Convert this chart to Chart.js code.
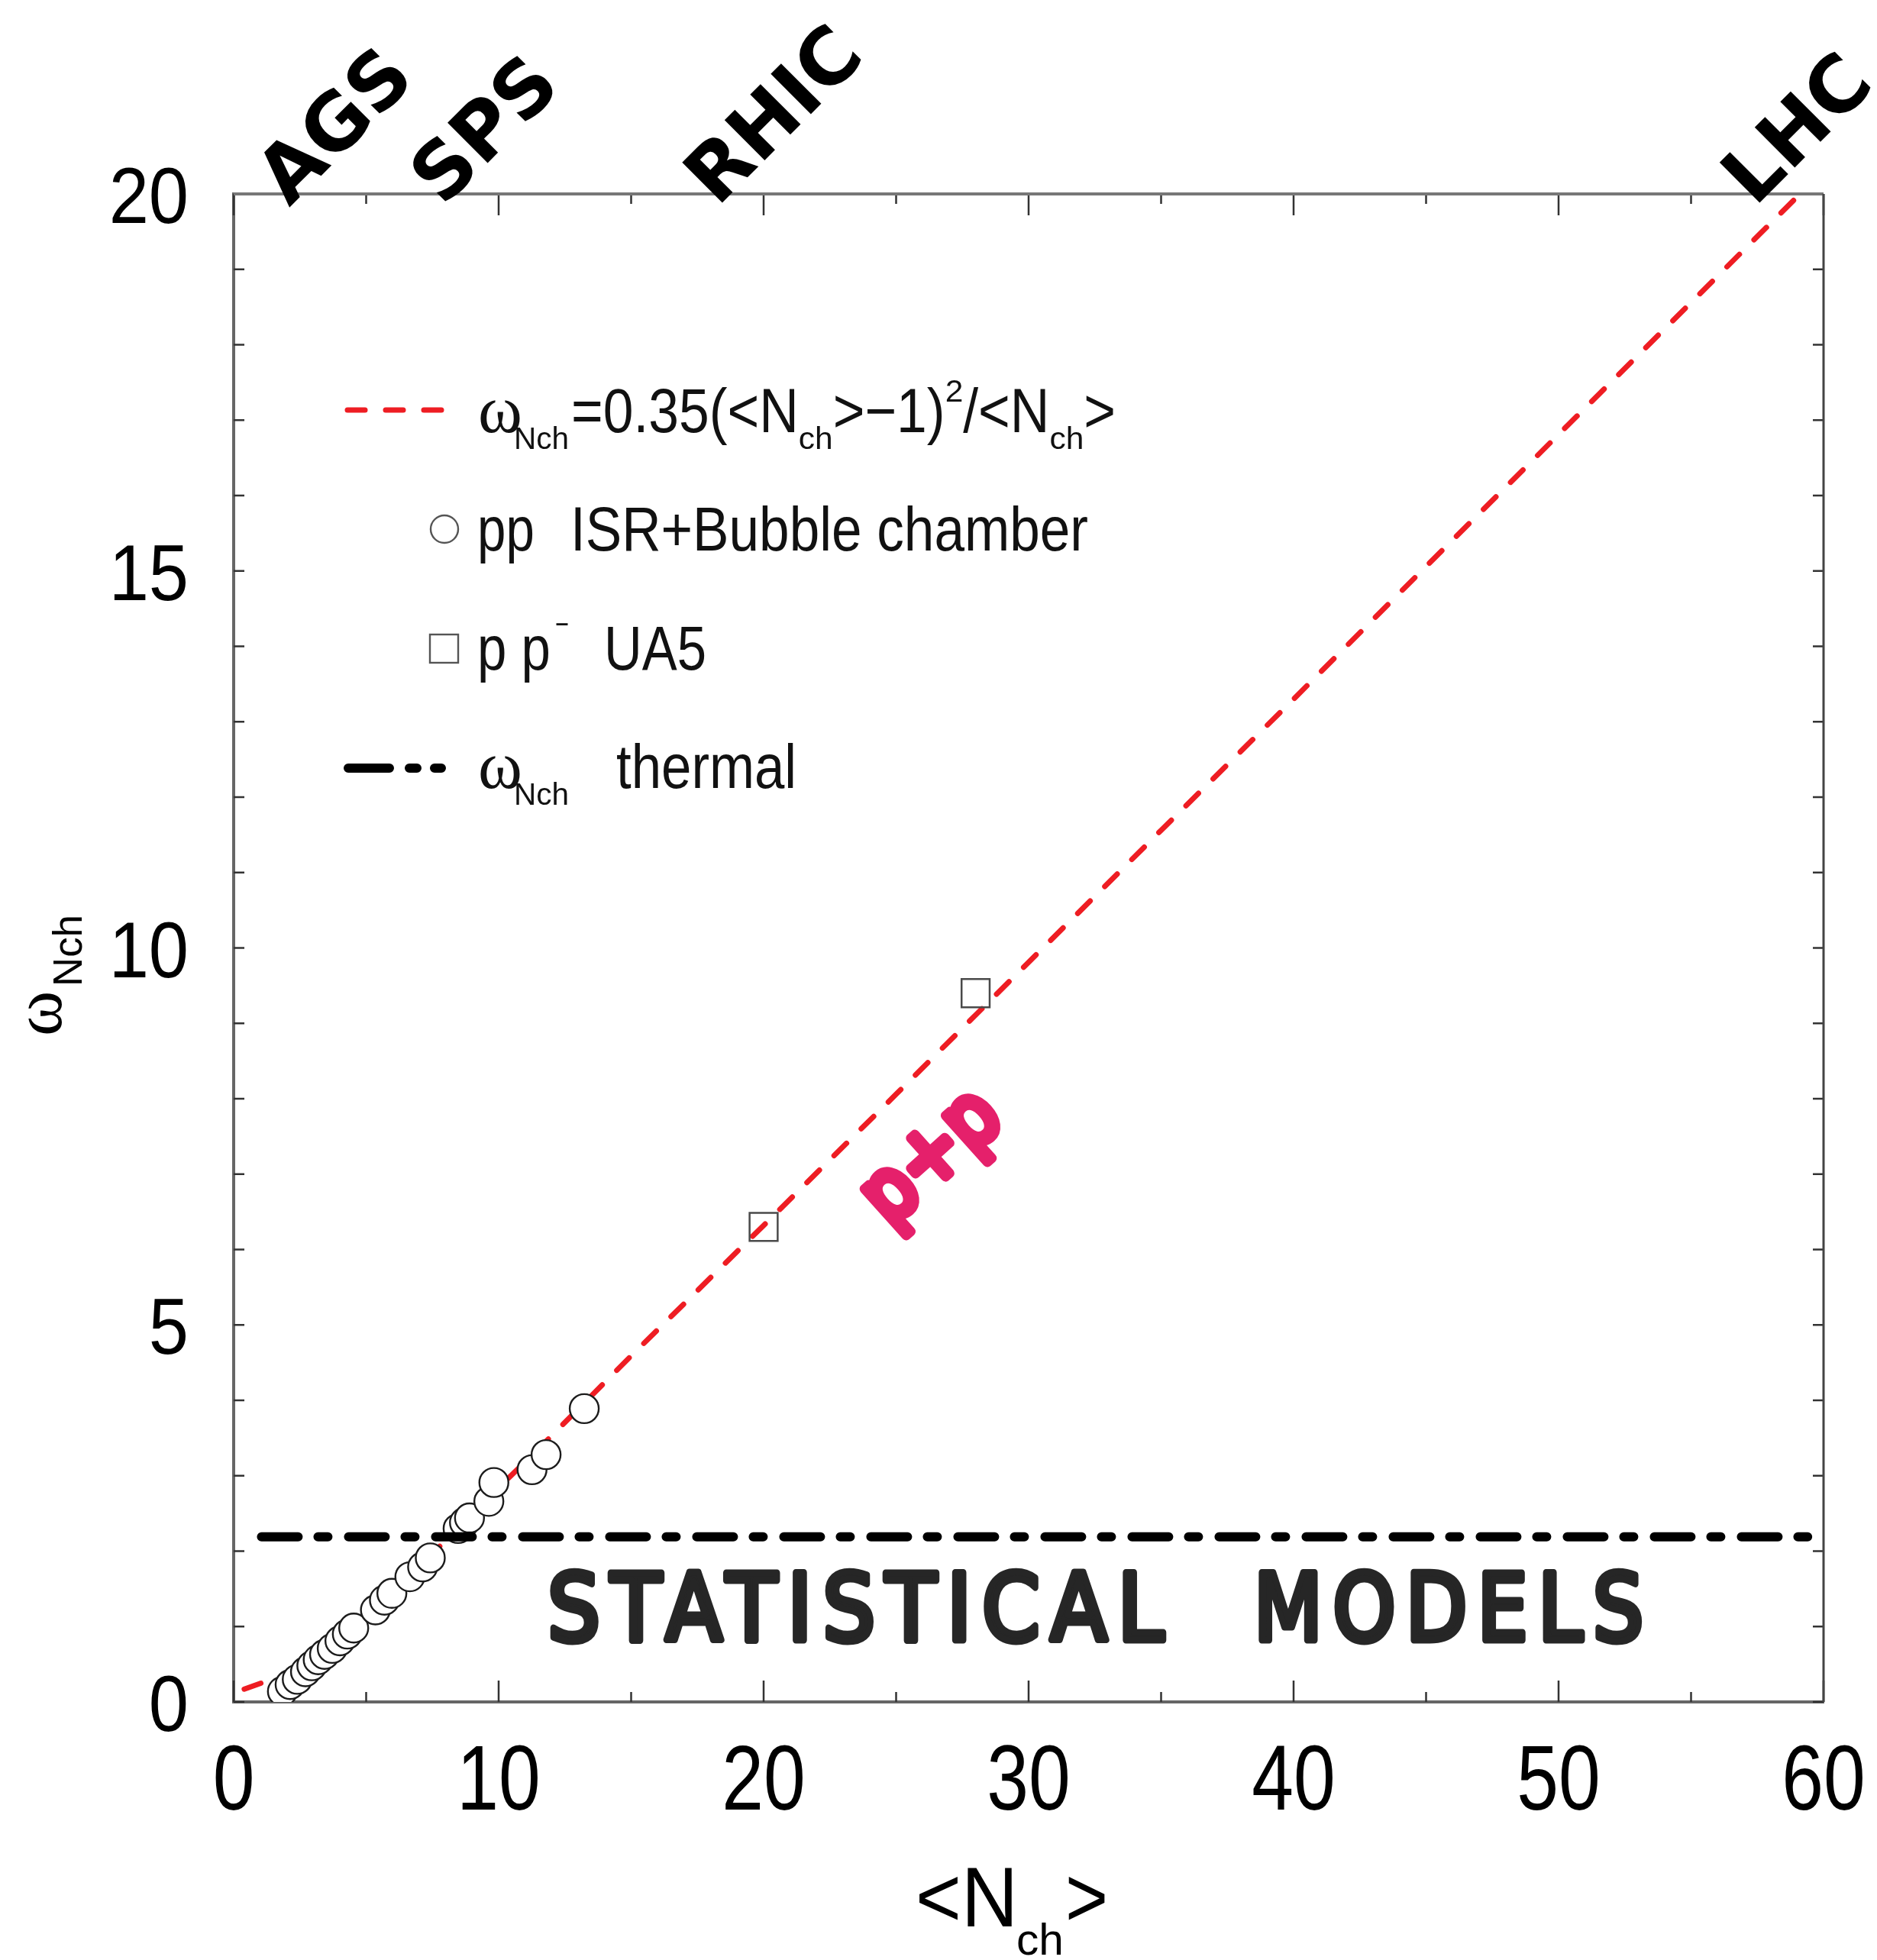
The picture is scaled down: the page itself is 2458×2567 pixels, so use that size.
<!DOCTYPE html>
<html>
<head>
<meta charset="utf-8">
<script src="https://cdn.jsdelivr.net/npm/chart.js@4.4.1/dist/chart.umd.min.js"></script>
<style>
  html, body { margin: 0; padding: 0; background: #fff; }
  canvas { display: block; }
</style>
</head>
<body>
<canvas id="multChart" width="2458" height="2567"></canvas>
<script>
// pp data (ISR + bubble chamber): mean charged multiplicity vs scaled variance
const ppMult  = [1.84, 2.13, 2.40, 2.71, 2.95, 3.19, 3.43, 3.72, 4.01, 4.29, 4.53, 5.35, 5.69,
                 5.97, 6.65, 7.13, 7.42, 8.47, 8.71, 8.90, 9.63, 9.82, 11.26, 11.79, 13.23];
const ppOmega = [0.14, 0.23, 0.30, 0.40, 0.48, 0.56, 0.63, 0.71, 0.81, 0.90, 0.98, 1.22, 1.35,
                 1.44, 1.66, 1.79, 1.91, 2.30, 2.38, 2.44, 2.66, 2.91, 3.08, 3.28, 3.89];
// p pbar UA5
const ua5Mult  = [20.0, 28.0];
const ua5Omega = [6.30, 9.40];
// fitted curve
const fitMult  = [0.4, 1.2, 2, 3, 4, 5, 6, 8, 10, 12, 15, 20, 25, 30, 35, 40, 45, 50, 55, 59.4];
const fitOmega = [0.17, 0.27, 0.33, 0.50, 0.79, 1.12, 1.46, 2.14, 2.84, 3.53, 4.59, 6.32, 8.06,
                  9.81, 11.56, 13.30, 15.06, 16.81, 18.56, 20.1];
// thermal (statistical model) level
const thermalMult  = [1.05, 59.4];
const thermalOmega = [2.19, 2.19];

const xMajorTicks = [0, 10, 20, 30, 40, 50, 60];
const yMajorTicks = [0, 5, 10, 15, 20];

const machineNames = ['AGS', 'SPS', 'RHIC', 'LHC'];
const machineMult  = [2.1, 7.9, 18.25, 57.4];

const toPoints = (xs, ys) => xs.map((v, i) => ({ x: v, y: ys[i] }));

// use the narrow face when it is installed, otherwise squeeze the regular one
function fontAvailable(name) {
    const c = document.createElement('canvas').getContext('2d');
    const probe = 'mmmmllllii0123456789';
    c.font = '48px monospace';
    const base = c.measureText(probe).width;
    c.font = '48px "' + name + '", monospace';
    return c.measureText(probe).width !== base;
}
const hasNarrow = fontAvailable('Liberation Sans Narrow');
const narrowFace = hasNarrow ? '"Liberation Sans Narrow"' : '"Liberation Sans"';
const narrowScale = hasNarrow ? 1 : 0.82;

// draw a row of text pieces; optional width stretches the whole row to fit
function drawRuns(ctx, runs, x, y, width) {
    let natural = 0;
    runs.forEach(r => { ctx.font = r.font; natural += ctx.measureText(r.text).width * r.sx; });
    const k = width ? width / natural : 1;
    let cx = x;
    runs.forEach(r => {
        ctx.font = r.font;
        const w = ctx.measureText(r.text).width * r.sx * k;
        ctx.save();
        ctx.translate(cx, y + (r.dy || 0));
        ctx.scale(r.sx * k, 1);
        ctx.fillText(r.text, 0, 0);
        ctx.restore();
        cx += w;
    });
}

// single squeezed label aligned left / center / right at x
function narrowLabel(ctx, text, size, x, y, align, sx) {
    ctx.font = `${size}px ${narrowFace}`;
    const w = ctx.measureText(text).width * sx;
    const left = align === 'right' ? x - w : align === 'center' ? x - w / 2 : x;
    ctx.save();
    ctx.translate(left, y);
    ctx.scale(sx, 1);
    ctx.fillText(text, 0, 0);
    ctx.restore();
}

const frameTicks = {
    id: 'frameTicks',
    afterDraw(chart) {
        const { ctx, chartArea: a, scales: { x, y } } = chart;
        ctx.save();
        ctx.strokeStyle = '#333';
        ctx.lineWidth = 2.5;
        ctx.beginPath();
        x.ticks.forEach(t => {
            const px = x.getPixelForValue(t.value);
            const len = t.label !== '' ? 28 : 13;
            ctx.moveTo(px, a.bottom); ctx.lineTo(px, a.bottom - len);
            ctx.moveTo(px, a.top);    ctx.lineTo(px, a.top + len);
        });
        y.ticks.forEach(t => {
            const py = y.getPixelForValue(t.value);
            ctx.moveTo(a.left, py);  ctx.lineTo(a.left + 14, py);
            ctx.moveTo(a.right, py); ctx.lineTo(a.right - 14, py);
        });
        ctx.stroke();

        ctx.strokeStyle = '#777';
        ctx.lineWidth = 4;
        ctx.beginPath(); ctx.moveTo(a.left, a.top); ctx.lineTo(a.right, a.top); ctx.stroke();
        ctx.strokeStyle = '#444';
        ctx.lineWidth = 3;
        ctx.beginPath(); ctx.moveTo(a.right, a.top); ctx.lineTo(a.right, a.bottom); ctx.stroke();

        // tick labels, taken from the scales' own ticks
        ctx.fillStyle = '#000';
        ctx.textBaseline = 'alphabetic';
        const ns = narrowScale;
        x.ticks.forEach(t => {
            if (t.label === '') return;
            narrowLabel(ctx, t.label, 120, x.getPixelForValue(t.value), a.bottom + 141, 'center', ns);
        });
        y.ticks.forEach(t => {
            if (t.label === '') return;
            narrowLabel(ctx, t.label, 104, 247, y.getPixelForValue(t.value) + 38, 'right', ns * 1.1);
        });
        ctx.restore();
    }
};

const annotations = {
    id: 'annotations',
    afterDraw(chart) {
        const { ctx, chartArea: a, scales: { x, y } } = chart;
        const main  = `82px ${narrowFace}`;
        const sub   = '40px "Liberation Sans"';
        const omega = '88px "Liberation Serif"';
        const ns = narrowScale;

        ctx.save();
        ctx.fillStyle = '#000';
        ctx.textAlign = 'left';
        ctx.textBaseline = 'alphabetic';

        // accelerators along the top edge
        ctx.font = 'bold 102px "DejaVu Sans"';
        machineNames.forEach((name, i) => {
            ctx.save();
            ctx.translate(x.getPixelForValue(machineMult[i]), a.top + 18);
            ctx.rotate(-Math.PI / 4);
            ctx.fillText(name, 0, 0);
            ctx.restore();
        });

        // legend
        ctx.fillStyle = '#111';
        const lx = 626;
        const rows = [566, 721, 877, 1032];

        ctx.save();
        ctx.strokeStyle = '#ee1d23';
        ctx.lineWidth = 7;
        ctx.lineCap = 'round';
        ctx.setLineDash([23, 27]);
        ctx.beginPath(); ctx.moveTo(455, rows[0] - 29); ctx.lineTo(580, rows[0] - 29); ctx.stroke();
        ctx.restore();
        drawRuns(ctx, [{ text: 'ω', font: omega, sx: 1 }], lx, rows[0]);
        drawRuns(ctx, [{ text: 'Nch', font: sub, sx: 1 }], 673, rows[0] + 22, 72);
        drawRuns(ctx, [
            { text: '=0.35(<N', font: main, sx: ns },
            { text: 'ch', font: sub, sx: 1, dy: 22 },
            { text: '>−1)', font: main, sx: ns },
            { text: '2', font: sub, sx: 1, dy: -40 },
            { text: '/<N', font: main, sx: ns },
            { text: 'ch', font: sub, sx: 1, dy: 22 },
            { text: '>', font: main, sx: ns }
        ], 748, rows[0], 713);

        ctx.save();
        ctx.strokeStyle = '#555';
        ctx.lineWidth = 2.4;
        ctx.beginPath(); ctx.arc(582, rows[1] - 28, 18, 0, Math.PI * 2); ctx.stroke();
        ctx.strokeRect(563, rows[2] - 46, 37, 37);
        ctx.restore();
        drawRuns(ctx, [{ text: 'pp', font: main, sx: ns }], 625, rows[1]);
        drawRuns(ctx, [{ text: 'ISR+Bubble chamber', font: main, sx: ns }], 747, rows[1], 678);
        drawRuns(ctx, [{ text: 'p p', font: main, sx: ns }], 625, rows[2], 96);
        drawRuns(ctx, [{ text: '−', font: sub, sx: 1 }], 727, rows[2] - 46, 18);
        drawRuns(ctx, [{ text: 'UA5', font: main, sx: ns }], 791, rows[2], 134);

        ctx.save();
        ctx.strokeStyle = '#000';
        ctx.lineWidth = 12;
        ctx.lineCap = 'round';
        ctx.beginPath();
        ctx.moveTo(456, rows[3] - 26); ctx.lineTo(510, rows[3] - 26);
        ctx.moveTo(536, rows[3] - 26); ctx.lineTo(546, rows[3] - 26);
        ctx.moveTo(569, rows[3] - 26); ctx.lineTo(578, rows[3] - 26);
        ctx.stroke();
        ctx.restore();
        drawRuns(ctx, [{ text: 'ω', font: omega, sx: 1 }], lx, rows[3]);
        drawRuns(ctx, [{ text: 'Nch', font: sub, sx: 1 }], 673, rows[3] + 22, 72);
        drawRuns(ctx, [{ text: 'thermal', font: main, sx: ns }], 807, rows[3], 236);

        // axis titles
        ctx.fillStyle = '#000';
        ctx.save();
        ctx.translate(80, 1357);
        ctx.rotate(-Math.PI / 2);
        drawRuns(ctx, [{ text: 'ω', font: '90px "Liberation Serif"', sx: 1 }], 0, 0);
        drawRuns(ctx, [{ text: 'Nch', font: '53px "Liberation Sans"', sx: 1 }], 65, 27, 94);
        ctx.restore();

        drawRuns(ctx, [{ text: '<N', font: `112px ${narrowFace}`, sx: ns }], 1199, 2523, 134);
        drawRuns(ctx, [{ text: 'ch', font: '58px "Liberation Sans"', sx: 1 }], 1331, 2560, 62);
        drawRuns(ctx, [{ text: '>', font: `112px ${narrowFace}`, sx: ns }], 1395, 2523, 56);

        // hand-written notes
        ctx.save();
        ctx.fillStyle = ctx.strokeStyle = '#262626';
        ctx.lineWidth = 9;
        ctx.lineJoin = 'round';
        ctx.lineCap = 'round';
        ctx.font = '122px "DejaVu Sans"';
        const base = y.getPixelForValue(0.82);
        [['STATISTICAL', 11.85, 35.1], ['MODELS', 38.5, 53.2]].forEach(([word, x0, x1]) => {
            const left = x.getPixelForValue(x0);
            const w = x.getPixelForValue(x1) - left;
            ctx.save();
            ctx.letterSpacing = '16px';
            ctx.translate(left, base);
            ctx.scale(w / (ctx.measureText(word).width - 16), 1);
            ctx.fillText(word, 0, 0);
            ctx.strokeText(word, 0, 0);
            ctx.restore();
        });
        ctx.restore();

        ctx.save();
        ctx.translate(x.getPixelForValue(26.4), y.getPixelForValue(7.2));
        ctx.rotate(-42 * Math.PI / 180);
        ctx.font = '108px "DejaVu Sans"';
        ctx.scale(205 / ctx.measureText('p+p').width, 1);
        ctx.fillStyle = ctx.strokeStyle = '#e5206b';
        ctx.lineWidth = 13;
        ctx.lineJoin = 'round';
        ctx.lineCap = 'round';
        ctx.textAlign = 'center';
        ctx.fillText('p+p', 0, 28);
        ctx.strokeText('p+p', 0, 28);
        ctx.restore();

        ctx.restore();
    }
};

new Chart(document.getElementById('multChart'), {
    type: 'scatter',
    data: {
        datasets: [
            {
                label: 'fit',
                type: 'line',
                data: toPoints(fitMult, fitOmega),
                borderColor: '#ee1d23',
                borderWidth: 7,
                borderDash: [23, 27],
                borderCapStyle: 'round',
                pointRadius: 0,
                fill: false,
                order: 3
            },
            {
                label: 'pp ISR+Bubble chamber',
                data: toPoints(ppMult, ppOmega),
                pointStyle: 'circle',
                pointRadius: 19,
                borderWidth: 2.4,
                borderColor: '#1c1c1c',
                backgroundColor: '#fff',
                order: 2
            },
            {
                label: 'p pbar UA5',
                data: toPoints(ua5Mult, ua5Omega),
                pointStyle: 'rect',
                pointRadius: 26,
                borderWidth: 2.5,
                borderColor: '#4a4a4a',
                backgroundColor: 'rgba(0,0,0,0)',
                order: 1
            },
            {
                label: 'thermal',
                type: 'line',
                data: toPoints(thermalMult, thermalOmega),
                borderColor: '#000',
                borderWidth: 12,
                borderDash: [48, 26, 13, 27],
                borderCapStyle: 'round',
                pointRadius: 0,
                fill: false,
                order: 0
            }
        ]
    },
    options: {
        responsive: false,
        animation: false,
        devicePixelRatio: 1,
        layout: { padding: { top: 254, right: 70, left: 0, bottom: 0 } },
        plugins: {
            legend: { display: false },
            tooltip: { enabled: false }
        },
        scales: {
            x: {
                type: 'linear',
                min: 0,
                max: 60,
                afterFit: (s) => { s.height = 338; s.paddingLeft = 0; s.paddingRight = 0; },
                grid: { display: false },
                border: { display: true, color: '#666', width: 4 },
                ticks: {
                    display: false,
                    stepSize: 5,
                    autoSkip: false,
                    callback: (v) => xMajorTicks.includes(v) ? String(v) : ''
                }
            },
            y: {
                type: 'linear',
                min: 0,
                max: 20,
                afterFit: (s) => { s.width = 306; s.paddingTop = 0; s.paddingBottom = 0; },
                grid: { display: false },
                border: { display: true, color: '#666', width: 4 },
                ticks: {
                    display: false,
                    stepSize: 1,
                    autoSkip: false,
                    callback: (v) => yMajorTicks.includes(v) ? String(v) : ''
                }
            }
        }
    },
    plugins: [frameTicks, annotations]
});
</script>
</body>
</html>
